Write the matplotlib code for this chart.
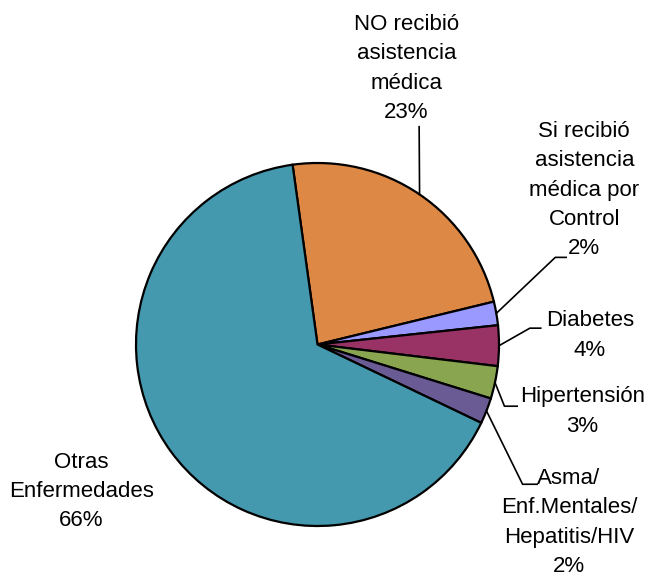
import numpy as np
import matplotlib.pyplot as plt

plt.rcParams['font.family'] = ['Liberation Sans', 'DejaVu Sans']

categories = ["NO recibió\nasistencia\nmédica",
              "Si recibió\nasistencia\nmédica por\nControl",
              "Diabetes",
              "Hipertensión",
              "Asma/\nEnf.Mentales/\nHepatitis/HIV",
              "Otras\nEnfermedades"]
values = [23.4, 2.1, 3.6, 2.9, 2.3, 65.7]
colors = ["#DD8844", "#9999FF", "#993366", "#8AA54F", "#6B5B95", "#4499AF"]

# label placement in pie units (radius = 1), and elbow of leader line
label_pos = [(0.49, 1.52), (1.47, 0.85), (1.50, 0.05), (1.46, -0.37), (1.385, -0.98), (-1.30, -0.81)]
elbows = [(0.56, 1.20), (1.31, 0.48), (1.17, 0.09), (1.03, -0.34), (1.13, -0.77), None]
ends = [None, (1.37, 0.48), (1.23, 0.09), (1.10, -0.34), (1.21, -0.77), None]

W, H = 653, 580
cx, cy, r = 317.5, 344.5, 181.5

fig = plt.figure(figsize=(W / 100, H / 100), dpi=100)
ax = fig.add_axes([(cx - r) / W, (H - cy - r) / H, 2 * r / W, 2 * r / H])

wedges, _ = ax.pie(values, colors=colors, startangle=97.9, counterclock=False,
                   radius=1, wedgeprops=dict(edgecolor="black", linewidth=1.6))
ax.set_xlim(-1, 1)
ax.set_ylim(-1, 1)
ax.set_aspect("equal")
ax.axis("off")

for i, w in enumerate(wedges):
    pct = int(round(values[i]))
    lx, ly = label_pos[i]
    ax.text(lx, ly, f"{categories[i]}\n{pct}%", ha="center", va="center",
            fontsize=16, linespacing=1.52, clip_on=False)
    if elbows[i] is None:
        continue
    ang = np.deg2rad((w.theta1 + w.theta2) / 2)
    sx, sy = np.cos(ang), np.sin(ang)
    xs = [sx, elbows[i][0]]
    ys = [sy, elbows[i][1]]
    if ends[i] is not None:
        xs.append(ends[i][0])
        ys.append(ends[i][1])
    ax.plot(xs, ys, color="black", lw=1.2, clip_on=False)

fig.savefig("out.png", dpi=100)
